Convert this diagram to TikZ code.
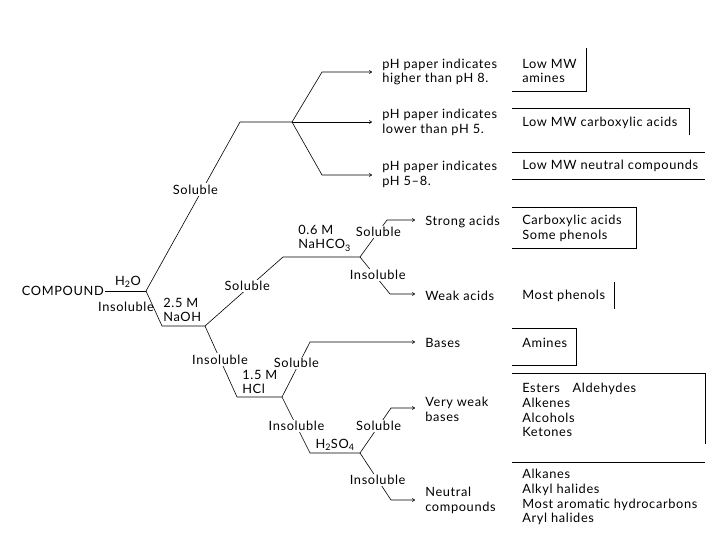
\documentclass[tikz,border=0pt]{standalone}
\usepackage{fontspec}
\setmainfont[LetterSpace=5]{Lato}
\usetikzlibrary{arrows.meta,positioning}

\begin{document}
\begin{tikzpicture}[
            x = 1pt, y = -1pt, % pixel grid, y downwards
            > = {To[length=3pt,width=3.5pt]}, % arrow head style
            line width = 0.6pt,
            every node/.style = {font=\fontsize{12.8}{14.8}\selectfont, inner sep=1pt, align=left}
        ]

        \tikzstyle{cut}=[fill = white, inner sep = 1.5pt] % label breaking the line
        \tikzstyle{item}=[anchor = west] % texts on the right
        \tikzstyle{goal}=[->, shorten > = 9pt]

        \useasboundingbox (0,0) rectangle (720,540);

        % junctions
        \coordinate (j1) at (146,291);
        \coordinate (s1) at (240,122);
        \coordinate (j2) at (292,122);
        \coordinate (i1) at (162,326);
        \coordinate (j3) at (205,326);
        \coordinate (s2) at (283,257);
        \coordinate (j4) at (360,257);
        \coordinate (i2) at (237,397);
        \coordinate (j5) at (282,397);
        \coordinate (i3) at (310,453);
        \coordinate (j6) at (360,453);

        % elbows before the arrows
        \coordinate (e1) at (322,72);
        \coordinate (e2) at (322,175);
        \coordinate (e3) at (387,220);
        \coordinate (e4) at (390,294);
        \coordinate (e5) at (310,342);
        \coordinate (e6) at (391,408);
        \coordinate (e7) at (391,500);

        % start
        \node (compound) [anchor=east] at (105,291) {COMPOUND};
        \node (water) at (128,282) {H\textsubscript{2}O};
        \node (insol1) at (126,307) {Insoluble};
        \node (naoh) [anchor=west] at (162,310) {2.5 M\\NaOH};
        \node (nahco) [anchor=west] at (297,238) {0.6 M\\NaHCO\textsubscript{3}};
        \node (hcl) [anchor=west] at (241,382) {1.5 M\\HCl};
        \node (hso) at (335,445) {H\textsubscript{2}SO\textsubscript{4}};

        % results
        \node[item] (ph1) at (381,72) {pH paper indicates\\higher than pH 8.};
        \node[item] (ph2) at (381,122) {pH paper indicates\\lower than pH 5.};
        \node[item] (ph3) at (381,174) {pH paper indicates\\pH 5--8.};
        \node[item] (strong) at (424,222) {Strong acids};
        \node[item] (weak) at (424,296) {Weak acids};
        \node[item] (bases) at (424,343) {Bases};
        \node[item] (vweak) at (424,409) {Very weak\\bases};
        \node[item] (neutral) at (424,500) {Neutral\\compounds};

        % classes
        \node[item] (c1) at (521,71) {Low MW\\amines};
        \node[item] (c2) at (521,123) {Low MW carboxylic acids};
        \node[item] (c3) at (521,166) {Low MW neutral compounds};
        \node[item] (c4) at (521,228) {Carboxylic acids\\Some phenols};
        \node[item] (c5) at (521,296) {Most phenols};
        \node[item] (c6) at (521,343) {Amines};
        \node[item] (c7) at (521,410) {Esters\quad Aldehydes\\Alkenes\\Alcohols\\Ketones};
        \node[item] (c8) at (521,497) {Alkanes\\Alkyl halides\\Most aromatic hydrocarbons\\Aryl halides};

        % tree
        \draw (compound.east) -- (j1);
        \draw (j1) -- node[cut, pos=0.6, xshift=-7pt] {Soluble} (s1) -- (j2);
        \draw (j1) -- (i1) -- (j3);
        \draw[goal] (j2) -- (e1) -- (e1 -| ph1.west);
        \draw[goal] (j2) -- (j2 -| ph2.west);
        \draw[goal] (j2) -- (e2) -- (e2 -| ph3.west);

        \draw (j3) -- node[cut, pos=0.58, xshift=-3pt] {Soluble} (s2) -- (j4);
        \draw[goal] (j4) -- node[cut, pos=0.68] {Soluble} (e3) -- (e3 -| strong.west);
        \draw[goal] (j4) -- node[cut, pos=0.49, xshift=3pt] {Insoluble} (e4) -- (e4 -| weak.west);

        \draw (j3) -- node[cut, pos=0.47] {Insoluble} (i2) -- (j5);
        \draw[goal] (j5) -- node[cut, pos=0.62, xshift=-3pt] {Soluble} (e5) -- (e5 -| bases.west);
        \draw (j5) -- node[cut, pos=0.52] {Insoluble} (i3) -- (j6);
        \draw[goal] (j6) -- node[cut, pos=0.6] {Soluble} (e6) -- (e6 -| vweak.west);
        \draw[goal] (j6) -- node[cut, pos=0.57] {Insoluble} (e7) -- (e7 -| neutral.west);

        % brackets round the classes
        \draw (586,48) -- (586,91) -- (512,91);
        \draw (512,108) -- (689,108) -- (689,135);
        \draw (512,152) -- (705,152);
        \draw (512,179) -- (705,179);
        \draw (512,207) -- (636,207) -- (636,248) -- (512,248);
        \draw (614,282) -- (614,309);
        \draw (512,328) -- (576,328) -- (576,365) -- (512,365);
        \draw (512,373) -- (705,373) -- (705,444);
        \draw (512,462) -- (705,462);

\end{tikzpicture}
\end{document}
